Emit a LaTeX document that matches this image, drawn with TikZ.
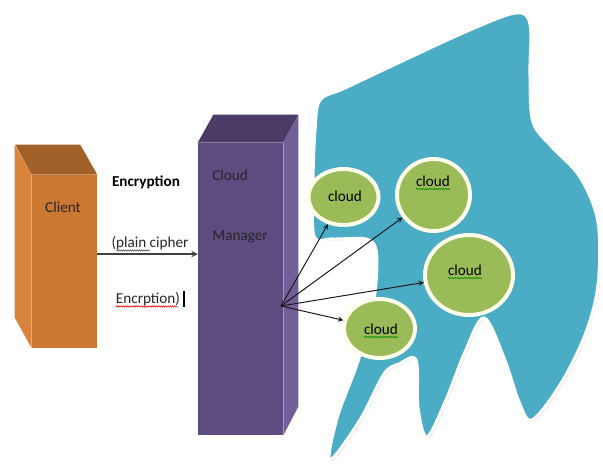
\documentclass[tikz,border=0pt]{standalone}
\usepackage{fontspec}
\setmainfont{Carlito}
\usetikzlibrary{shapes.geometric,shadows,decorations.pathmorphing}
\definecolor{clientfront}{RGB}{203,120,50}
\definecolor{clientside}{RGB}{216,132,60}
\definecolor{clienttop}{RGB}{160,96,40}
\definecolor{managerfront}{RGB}{94,75,128}
\definecolor{managerside}{RGB}{114,94,152}
\definecolor{managertop}{RGB}{74,60,102}
\definecolor{blobblue}{RGB}{75,172,198}
\definecolor{cloudgreen}{RGB}{155,187,89}
\tikzset{
 boxtext/.style={font=\fontsize{10.8}{13}\selectfont, text=black!85, inner sep=0pt},
 clientbox/.style={fill=clientfront, minimum width=1.625cm, minimum height=4.325cm, inner sep=0pt},
 managerbox/.style={fill=managerfront, minimum width=2.125cm, minimum height=7.3cm, inner sep=0pt},
 blob/.style={fill=blobblue, draw=white, line width=2.2pt,
   drop shadow={shadow xshift=1pt, shadow yshift=-1pt, opacity=0.3, fill=black!60}},
 cloudnode/.style={ellipse, fill=cloudgreen, draw=white!92!yellow, line width=2.8pt, inner sep=0pt,
   drop shadow={shadow xshift=0.8pt, shadow yshift=-0.8pt, opacity=0.3, fill=black!60}},
 cloudtext/.style={font=\fontsize{10.8}{13}\selectfont, inner sep=0pt},
 squiggle/.style={draw=#1, line width=0.4pt, decorate,
   decoration={snake, segment length=1.6pt, amplitude=0.5pt}},
 fanarrow/.style={->, line width=0.7pt, black!90}
}
\begin{document}
\begin{tikzpicture}[x=0.025cm,y=-0.025cm,>=stealth]
 \useasboundingbox (0,0) rectangle (603,470);
 % the cloud area
 \path[blob] plot[smooth cycle, tension=0.55] coordinates {
   (320,100) (345,88) (400,62) (465,32) (515,13) (530,24) (530,75) (533,122)
   (552,147) (580,177) (598,222) (598,285) (585,335) (560,385) (532,420)
   (519,402) (504,358) (484,318) (465,352) (446,400) (427,437) (418,408)
   (416,360) (399,364) (384,374) (360,420) (330,460) (337,418) (357,364)
   (371,315) (376,282) (376,250) (366,239) (332,239) (314,236) (313,180) (315,130)};
 % client box
 \node[clientbox] (client) at (64.5,261.5) {};
 \fill[clienttop] (client.north west) -- (client.north east) -- ++(-17,-30) -- ++(-65,0) -- cycle;
 \fill[clientside] (client.north west) -- ++(-17,-30) -- ++(0,173) -- (client.south west) -- cycle;
 \node[boxtext] (clientname) at (63,207) {Client};
 % manager box
 \node[managerbox] (manager) at (240.5,289) {};
 \fill[managertop] (manager.north west) -- (manager.north east) -- ++(15,-28) -- ++(-85,0) -- cycle;
 \fill[managerside] (manager.north east) -- ++(15,-28) -- ++(0,292) -- (manager.south east) -- cycle;
 \node[boxtext, anchor=west] (mgrA) at (212,175) {Cloud};
 \node[boxtext, anchor=west] (mgrB) at (212,237) {Manager};
 % encryption link
 \node[boxtext, font=\fontsize{10.8}{13}\selectfont\bfseries, text=black] (encA) at (146,182) {Encryption};
 \node[boxtext] (encB) at (150,243) {(plain cipher};
 \node[boxtext] (encC) at (148,299) {Encrption)};
 \draw[->, line width=1pt, black!75] ([yshift=5.3pt]client.east) coordinate (cipherstart)
   -- (cipherstart -| manager.west);
 \draw[squiggle=black!70] ([xshift=3.5pt,yshift=-2.2pt]encB.base west) -- ++(24pt,0);
 \draw[squiggle=red] ([yshift=-2.2pt]encC.base west) -- ([xshift=-2pt,yshift=-2.2pt]encC.base east);
 \draw[line width=1.1pt] ([xshift=2.5pt,yshift=-1pt]encC.south east) -- ([xshift=2.5pt,yshift=1pt]encC.north east);
 % clouds
 \node[cloudnode, minimum width=1.75cm, minimum height=1.4cm] (cA) at (343.5,197) {};
 \node[cloudnode, minimum width=1.825cm, minimum height=1.8cm] (cB) at (433.5,195) {};
 \node[cloudnode, minimum width=2.2cm, minimum height=2cm] (cC) at (469,275) {};
 \node[cloudnode, minimum width=1.775cm, minimum height=1.475cm] (cD) at (379.5,328.5) {};
 \node[cloudtext] (tA) at (345,196) {cloud};
 \node[cloudtext] (tB) at (433,181) {cloud};
 \node[cloudtext] (tC) at (465,270) {cloud};
 \node[cloudtext] (tD) at (381,329) {cloud};
 \foreach \t in {tB,tC,tD}
  \draw[squiggle=green!55!black] ([yshift=-2pt]\t.base west) -- ([yshift=-2pt]\t.base east);
 % links to the clouds
 \coordinate (fan) at (281,306);
 \foreach \c in {cA,cB,cC,cD}
  \draw[fanarrow] (fan) -- (\c);
\end{tikzpicture}
\end{document}
